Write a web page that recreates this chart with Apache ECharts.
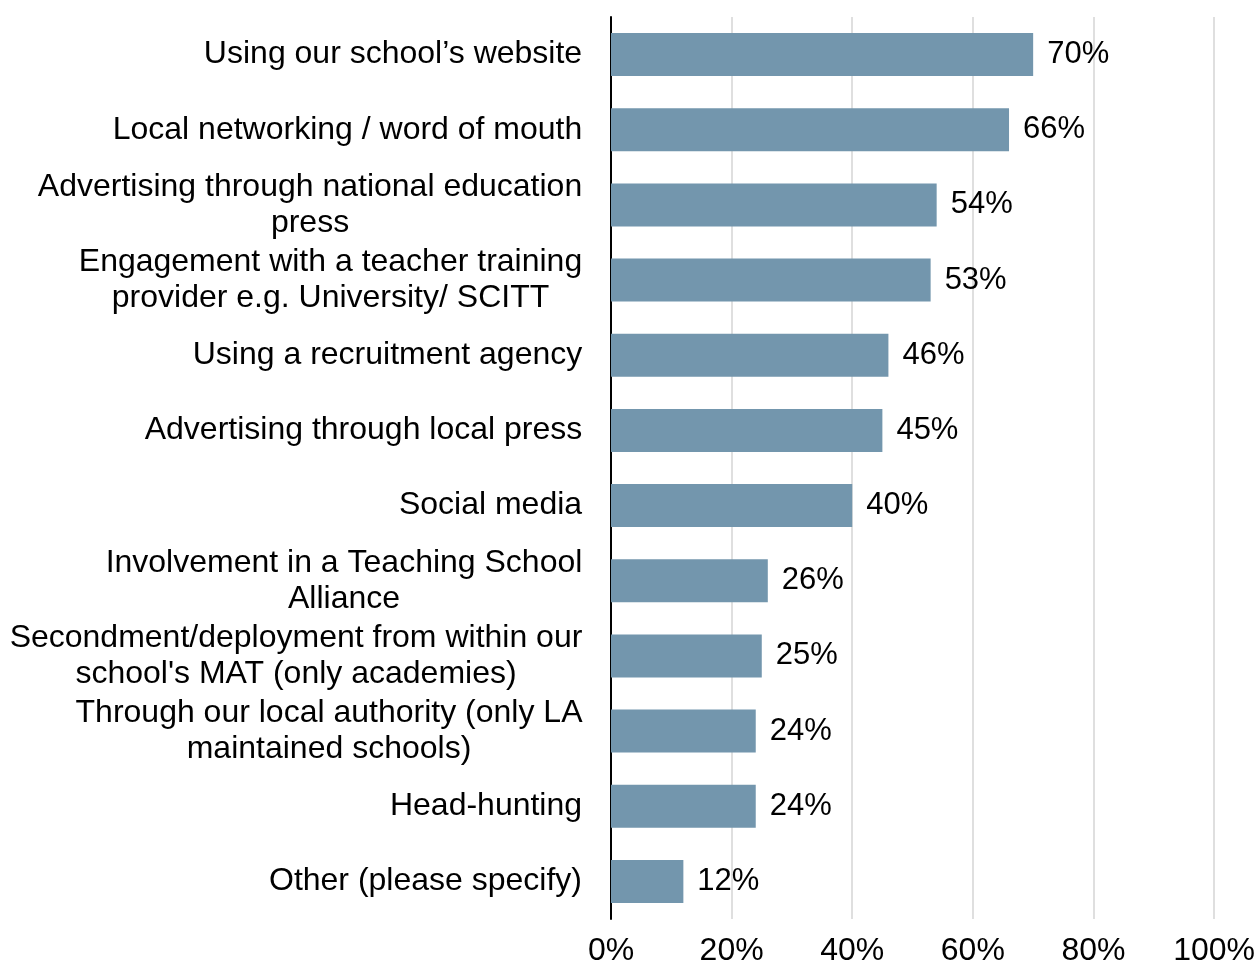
<!DOCTYPE html>
<html>
<head>
<meta charset="utf-8">
<script src="https://cdn.jsdelivr.net/npm/echarts@6/dist/echarts.min.js"></script>
<style>html,body{margin:0;padding:0;background:#fff;}#chart{width:1258px;height:967px;}</style>
</head>
<body>
<div id="chart"></div>
<script>
const categories = [
  "Using our school\u2019s website",
  "Local networking / word of mouth",
  "Advertising through national education\npress",
  "Engagement with a teacher training\nprovider e.g. University/ SCITT",
  "Using a recruitment agency",
  "Advertising through local press",
  "Social media",
  "Involvement in a Teaching School\nAlliance",
  "Secondment/deployment from within our\nschool's MAT (only academies)",
  "Through our local authority (only LA\nmaintained schools)",
  "Head-hunting",
  "Other (please specify)"
];
const values = [70, 66, 54, 53, 46, 45, 40, 26, 25, 24, 24, 12];
const xTicks = [0, 20, 40, 60, 80, 100];

const FONT = '"Liberation Sans", Arial, sans-serif';
const CFS = 32;
const canvas = document.createElement('canvas');
const ctx = canvas.getContext('2d');
ctx.font = CFS + 'px ' + FONT;
const rich = {};
categories.forEach((c, i) => {
  const w = Math.max(...c.split('\n').map(l => ctx.measureText(l).width));
  rich['r' + i] = { width: Math.ceil(w) + 1, align: 'center', fontSize: CFS, lineHeight: 36, color: '#000', fontFamily: FONT };
});

const chart = echarts.init(document.getElementById('chart'));
chart.setOption({
  animation: false,
  grid: { left: 611, right: 42, top: 17, bottom: 48, containLabel: false },
  xAxis: {
    type: 'value', min: xTicks[0], max: xTicks[xTicks.length - 1], interval: 20,
    axisLine: { show: false }, axisTick: { show: false },
    axisLabel: { formatter: '{value}%', fontSize: 32, color: '#000', fontFamily: FONT, margin: 16 },
    splitLine: { show: true, lineStyle: { color: '#d4d4d4', width: 1.5 } }
  },
  yAxis: {
    type: 'category', data: categories, inverse: true,
    axisLine: { show: true, lineStyle: { color: '#000', width: 2 } },
    axisTick: { show: false },
    axisLabel: {
      margin: 28, align: 'right',
      formatter: function (value) {
        const i = categories.indexOf(value);
        return value.split('\n').map(l => '{r' + i + '|' + l + '}').join('\n');
      },
      rich: rich
    }
  },
  series: [{
    type: 'bar', data: values, barWidth: 43,
    itemStyle: { color: '#7396AD' },
    label: { show: true, position: 'right', distance: 14, formatter: '{c}%', fontSize: 31, color: '#000', fontFamily: FONT }
  }]
});
</script>
</body>
</html>
